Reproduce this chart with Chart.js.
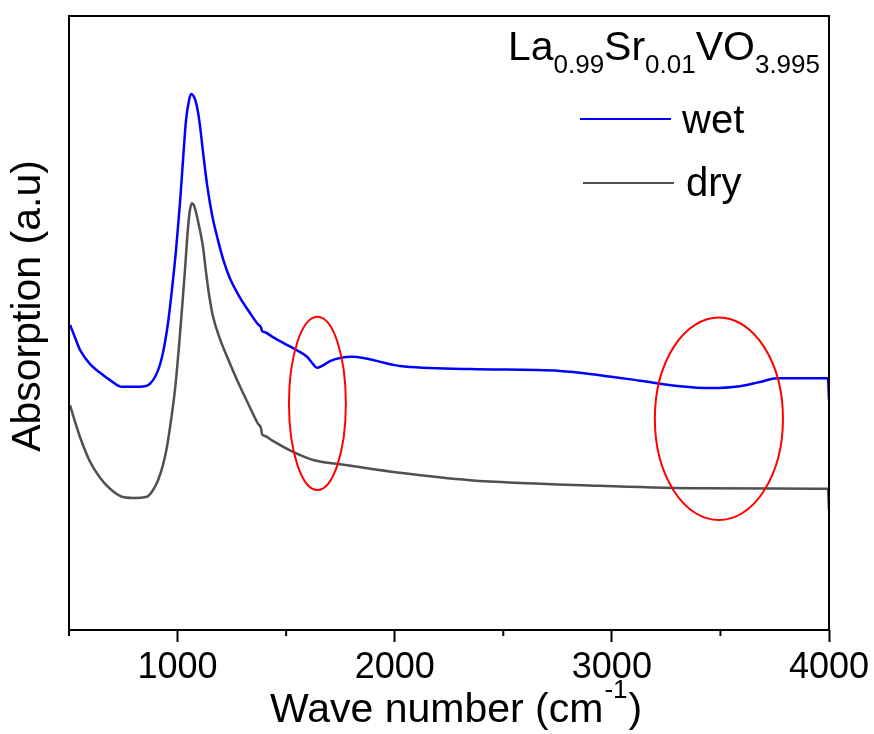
<!DOCTYPE html>
<html>
<head>
<meta charset="utf-8">
<script src="https://cdn.jsdelivr.net/npm/chart.js@4.4.1/dist/chart.umd.min.js"></script>
<style>
html,body{margin:0;padding:0;background:#fff;}
canvas{display:block;}
</style>
</head>
<body>
<canvas id="c" width="874" height="734"></canvas>
<script>
// ---- data (wave number in cm^-1, absorption in arbitrary units) ----
const wetX = [505,528,551,597,643,689,744,795,850,873,896,919,937,956,974,993,1011,1025,1039,1053,1062,1076,1089,1103,1117,1136,1159,1186,1214,1241,1288,1334,1370,1384,1389,1403,1439,1532,1596,1624,1642,1665,1702,1748,1803,2024,2347,2761,2945,3130,3314,3452,3590,3682,3761,3995,4000];
const wetY = [49.7,47.6,45.6,43.3,41.9,40.7,39.6,39.6,39.7,40.1,41.2,43.2,45.9,50.0,55.4,61.9,69.5,76.5,83.1,86.3,87.3,86.8,85.3,82.2,77.9,72.5,67.6,63.5,59.9,57.3,54.1,51.6,49.8,49.3,48.7,48.5,47.7,45.9,44.5,43.3,42.7,43.0,43.8,44.3,44.5,43.0,42.5,42.2,41.5,40.6,39.7,39.4,39.7,40.4,41.0,41.0,37.5];
const dryX = [505,528,551,597,643,689,744,795,859,887,910,933,951,970,988,1007,1020,1034,1048,1057,1066,1076,1089,1103,1117,1131,1145,1163,1195,1228,1288,1334,1370,1384,1389,1403,1439,1532,1624,1748,2024,2347,2945,3406,3995,4000];
const dryY = [36.6,33.9,31.4,27.4,24.8,23.0,21.7,21.5,21.7,22.8,24.4,26.9,29.8,34.2,39.1,46.4,52.1,58.6,65.5,68.4,69.5,69.1,67.4,65.1,62.4,58.3,54.6,51.1,47.4,44.5,39.6,36.2,33.6,32.9,31.9,31.6,30.8,29.0,27.7,27.0,25.6,24.4,23.5,23.1,23.0,19.5];
const xTickValues = [500,1000,1500,2000,2500,3000,3500,4000];
const xTickLabels = ['','1000','','2000','','3000','','4000'];
const seriesNames = ['wet','dry'];
// highlighted regions: centre wave number, centre absorption, half-width (cm^-1), half-height (a.u.)
const highlightCx = [1644, 3493];
const highlightCy = [36.9, 34.4];
const highlightRx = [131, 295];
const highlightRy = [14.1, 16.5];

const FONT = "'Liberation Sans', Arial, sans-serif";
const BLUE = '#0000ff';
const GREY = '#505050';

function pts(xs, ys){ return xs.map((x,i)=>({x:x, y:ys[i]})); }

function drawFormula(ctx, parts, rightX, baseY){
  let total = 0;
  const widths = parts.map(p=>{
    ctx.font = (p[1] ? '26px ' : '41px ') + FONT;
    const w = ctx.measureText(p[0]).width; total += w; return w;
  });
  let x = rightX - total;
  parts.forEach((p,i)=>{
    ctx.font = (p[1] ? '26px ' : '41px ') + FONT;
    ctx.fillText(p[0], x, p[1] ? baseY + 13 : baseY);
    x += widths[i];
  });
}

const decor = {
  id: 'decor',
  afterDraw(chart){
    const ctx = chart.ctx;
    const a = chart.chartArea;
    const xs = chart.scales.x, ys = chart.scales.y;
    ctx.save();
    // ellipses
    ctx.strokeStyle = '#ff0000';
    ctx.lineWidth = 2;
    for (let i=0;i<highlightCx.length;i++){
      const cx = xs.getPixelForValue(highlightCx[i]);
      const cy = ys.getPixelForValue(highlightCy[i]);
      const rx = Math.abs(xs.getPixelForValue(highlightCx[i]+highlightRx[i]) - cx);
      const ry = Math.abs(ys.getPixelForValue(highlightCy[i]+highlightRy[i]) - cy);
      ctx.beginPath();
      ctx.ellipse(cx, cy, rx, ry, 0, 0, Math.PI*2);
      ctx.stroke();
    }
    // frame
    ctx.strokeStyle = '#000';
    ctx.lineWidth = 2;
    ctx.strokeRect(a.left, a.top, a.right - a.left, a.bottom - a.top);
    // minor ticks
    xs.ticks.forEach(t=>{
      if (t.value % 1000 !== 0){
        const px = xs.getPixelForValue(t.value);
        ctx.beginPath(); ctx.moveTo(px, a.bottom); ctx.lineTo(px, a.bottom + 6); ctx.stroke();
      }
    });
    ctx.fillStyle = '#000';
    ctx.textAlign = 'left';
    ctx.textBaseline = 'alphabetic';
    // formula
    drawFormula(ctx, [['La',0],['0.99',1],['Sr',0],['0.01',1],['VO',0],['3.995',1]], 820, 60);
    // legend
    ctx.lineWidth = 2;
    ctx.strokeStyle = BLUE;
    ctx.beginPath(); ctx.moveTo(580, 119); ctx.lineTo(671, 119); ctx.stroke();
    ctx.strokeStyle = GREY;
    ctx.beginPath(); ctx.moveTo(583, 183); ctx.lineTo(674, 183); ctx.stroke();
    ctx.font = '40px ' + FONT;
    ctx.fillText(seriesNames[0], 682, 133);
    ctx.fillText(seriesNames[1], 686, 196);
    // x title
    let x = 270; const by = 722;
    ctx.font = '41px ' + FONT;
    const t1 = 'Wave number (cm';
    ctx.fillText(t1, x, by); x += ctx.measureText(t1).width;
    ctx.font = '26px ' + FONT;
    ctx.fillText('-1', x + 1, by - 24); x += ctx.measureText('-1').width + 2;
    ctx.font = '41px ' + FONT;
    ctx.fillText(')', x, by);
    // y title
    ctx.translate(40, 306);
    ctx.rotate(-Math.PI/2);
    ctx.textAlign = 'center';
    ctx.font = '41px ' + FONT;
    ctx.fillText('Absorption (a.u)', 0, 0);
    ctx.restore();
  }
};

new Chart(document.getElementById('c'), {
  type: 'line',
  data: {
    datasets: [
      { label: seriesNames[0], data: pts(wetX, wetY), borderColor: BLUE, borderWidth: 2.5, pointRadius: 0, cubicInterpolationMode: 'monotone', fill: false },
      { label: seriesNames[1], data: pts(dryX, dryY), borderColor: GREY, borderWidth: 2.5, pointRadius: 0, cubicInterpolationMode: 'monotone', fill: false }
    ]
  },
  options: {
    responsive: false,
    devicePixelRatio: 1,
    animation: false,
    layout: { padding: { left: 69, right: 45, top: 16, bottom: 0 } },
    plugins: { legend: { display: false }, tooltip: { enabled: false }, title: { display: false } },
    scales: {
      x: {
        type: 'linear', min: 500, max: 4000,
        afterBuildTicks: s => { s.ticks = xTickValues.map(v=>({value:v})); },
        afterFit: s => { s.height = 104; },
        ticks: {
          autoSkip: false, maxRotation: 0, padding: 4,
          color: '#000', font: { family: FONT, size: 36 },
          callback: (v) => { const i = xTickValues.indexOf(v); return i >= 0 ? xTickLabels[i] : ''; }
        },
        grid: {
          display: true, drawOnChartArea: false, drawTicks: true, tickLength: 12, tickWidth: 2,
          tickColor: c => (c.tick && c.tick.value % 1000 === 0) ? '#000' : 'rgba(0,0,0,0)'
        },
        border: { display: false }
      },
      y: { type: 'linear', min: 0, max: 100, display: false }
    }
  },
  plugins: [decor]
});
</script>
</body>
</html>
